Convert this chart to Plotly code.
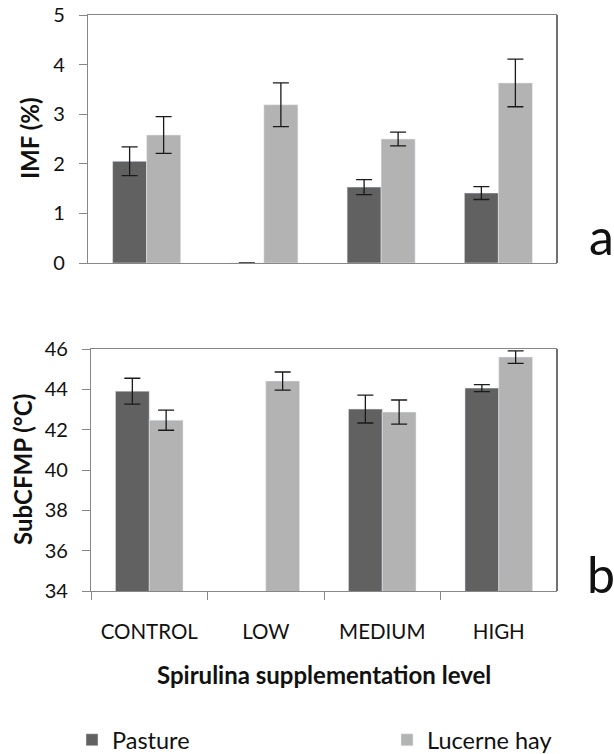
import plotly.graph_objects as go

categories = ["CONTROL", "LOW", "MEDIUM", "HIGH"]
series_names = ["Pasture", "Lucerne hay"]

imf_pasture = [2.05, 0.0, 1.53, 1.41]
imf_pasture_err = [0.29, 0.0, 0.15, 0.13]
imf_lucerne = [2.58, 3.19, 2.50, 3.63]
imf_lucerne_err = [0.37, 0.44, 0.14, 0.48]

sub_pasture = [43.91, None, 43.02, 44.06]
sub_pasture_err = [0.64, None, 0.69, 0.17]
sub_lucerne = [42.47, 44.41, 42.87, 45.60]
sub_lucerne_err = [0.50, 0.45, 0.60, 0.31]

imf_ticks = [0, 1, 2, 3, 4, 5]
sub_ticks = [34, 36, 38, 40, 42, 44, 46]

C_PAST = "#616161"
C_LUC = "#b3b3b3"
AX = "#878787"
FONT = "Lato"
W, H = 614, 754


def err(vals):
    return dict(type="data", array=vals, visible=True, color="#1a1a1a",
                thickness=1.3, width=8)


fig = go.Figure()
fig.add_trace(go.Bar(x=categories, y=imf_pasture, name=series_names[0],
                     marker_color=C_PAST, error_y=err(imf_pasture_err),
                     xaxis="x", yaxis="y", legend="legend"))
fig.add_trace(go.Bar(x=categories, y=imf_lucerne, name=series_names[1],
                     marker_color=C_LUC, error_y=err(imf_lucerne_err),
                     xaxis="x", yaxis="y", legend="legend2"))
fig.add_trace(go.Bar(x=categories, y=sub_pasture, name=series_names[0],
                     marker_color=C_PAST, error_y=err(sub_pasture_err),
                     xaxis="x2", yaxis="y2", showlegend=False))
fig.add_trace(go.Bar(x=categories, y=sub_lucerne, name=series_names[1],
                     marker_color=C_LUC, error_y=err(sub_lucerne_err),
                     xaxis="x2", yaxis="y2", showlegend=False))


def px_x(p):
    return p / W


def px_y(p):
    return (H - p) / H


tickfont = dict(family=FONT, size=20, color="#111")
legfont = dict(family=FONT, size=23.5, color="#111")
titlefont = dict(family=FONT, size=24, color="#111")

fig.update_layout(
    width=W, height=H,
    margin=dict(l=0, r=0, t=0, b=0, autoexpand=False),
    paper_bgcolor="white", plot_bgcolor="white",
    barmode="group", bargap=0.42, bargroupgap=0,
    font=dict(family=FONT, color="#111"),
    xaxis=dict(domain=[px_x(88), px_x(557)], anchor="y",
               showline=True, linecolor=AX, linewidth=1.3, mirror=True,
               ticks="", showticklabels=False, showgrid=False, zeroline=False,
               categoryorder="array", categoryarray=categories),
    yaxis=dict(domain=[px_y(263), px_y(15)], anchor="x",
               range=[0, 5], tickvals=imf_ticks, showgrid=False, zeroline=False,
               showline=True, linecolor=AX, linewidth=1.3,
               ticks="outside", ticklen=8, tickcolor=AX, tickwidth=1.3,
               tickfont=tickfont, ticklabelstandoff=10),
    xaxis2=dict(domain=[px_x(91), px_x(557)], anchor="y2",
                showline=True, linecolor=AX, linewidth=1.3, mirror=True,
                ticks="outside", tickson="boundaries", ticklen=8, tickcolor=AX,
                tickwidth=1.3, tickfont=dict(family=FONT, size=20.5, color="#111"),
                ticklabelstandoff=22,
                showgrid=False, zeroline=False,
                categoryorder="array", categoryarray=categories),
    yaxis2=dict(domain=[px_y(591), px_y(349)], anchor="x2",
                range=[34, 46], tickvals=sub_ticks, showgrid=False, zeroline=False,
                showline=True, linecolor=AX, linewidth=1.3,
                ticks="outside", ticklen=8, tickcolor=AX, tickwidth=1.3,
                tickfont=tickfont, ticklabelstandoff=10),
    legend=dict(orientation="h", x=px_x(72), xanchor="left",
                y=px_y(740), yanchor="middle",
                font=legfont, bgcolor="rgba(0,0,0,0)"),
    legend2=dict(orientation="h", x=px_x(387), xanchor="left",
                 y=px_y(740), yanchor="middle",
                 font=legfont, bgcolor="rgba(0,0,0,0)"),
    shapes=[
        dict(type="line", xref="x domain", yref="y domain", x0=1, x1=1, y0=0, y1=1,
             line=dict(color="#111", width=1.2)),
        dict(type="line", xref="x2 domain", yref="y2 domain", x0=1, x1=1, y0=0, y1=1,
             line=dict(color="#111", width=1.2)),
    ],
    annotations=[
        dict(text="<b>IMF (%)</b>", x=px_x(30), y=px_y(139), xref="paper", yref="paper",
             textangle=-90, showarrow=False, xanchor="center", yanchor="middle",
             font=titlefont),
        dict(text="<b>SubCFMP (°C)</b>", x=px_x(22), y=px_y(470), xref="paper", yref="paper",
             textangle=-90, showarrow=False, xanchor="center", yanchor="middle",
             font=titlefont),
        dict(text="<b>Spirulina supplementation level</b>", x=px_x(324), y=px_y(674),
             xref="paper", yref="paper", showarrow=False,
             xanchor="center", yanchor="middle",
             font=titlefont),
        dict(text="a", x=px_x(601), y=px_y(236), xref="paper", yref="paper",
             showarrow=False, xanchor="center", yanchor="middle",
             font=dict(family=FONT, size=50, color="#111")),
        dict(text="b", x=px_x(601), y=px_y(574), xref="paper", yref="paper",
             showarrow=False, xanchor="center", yanchor="middle",
             font=dict(family=FONT, size=50, color="#111")),
    ],
)

fig.write_html("out.html",
               config={"displayModeBar": False},
               post_script="document.body.style.margin='0';"
                           "document.body.style.padding='0';"
                           "document.body.style.overflow='hidden';")
